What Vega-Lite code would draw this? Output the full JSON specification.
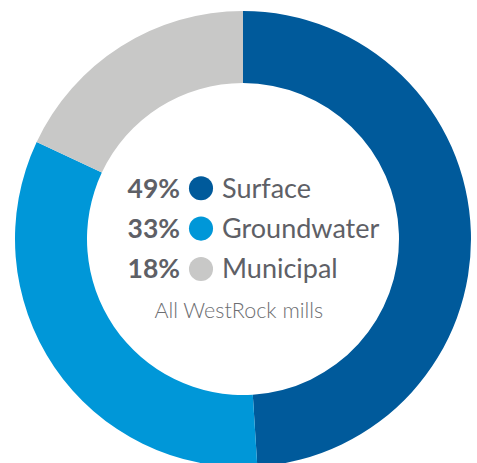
{
  "$schema": "https://vega.github.io/schema/vega-lite/v6.json",
  "width": 477,
  "height": 463,
  "autosize": {"type": "fit", "contains": "padding"},
  "padding": {"left": 9, "top": 15, "right": 0, "bottom": 0},
  "background": "white",
  "config": {"view": {"stroke": null}},
  "datasets": {
    "sources": [
      {"source": "Surface", "share": 0.49, "order": 1},
      {"source": "Groundwater", "share": 0.33, "order": 2},
      {"source": "Municipal", "share": 0.18, "order": 3}
    ],
    "note": [{"text": "All WestRock mills", "order": 4}]
  },
  "layer": [
    {
      "data": {"name": "sources"},
      "mark": {"type": "arc", "outerRadius": 228, "innerRadius": 156},
      "encoding": {
        "theta": {"field": "share", "type": "quantitative", "stack": true},
        "order": {"field": "order", "type": "quantitative"},
        "color": {
          "field": "source",
          "type": "nominal",
          "scale": {"domain": ["Surface", "Groundwater", "Municipal"], "range": ["#005A9B", "#0097D8", "#C8C8C7"]},
          "legend": null
        }
      }
    },
    {
      "data": {"name": "sources"},
      "mark": {"type": "text", "align": "right", "baseline": "alphabetic", "dy": 9.5, "font": "Lato", "fontWeight": "bold", "fontSize": 26.5, "color": "#5E6066"},
      "encoding": {
        "x": {"datum": -3, "type": "quantitative", "scale": {"domain": [-11.143, 11.143], "nice": false, "zero": false}, "axis": null},
        "y": {"field": "order", "type": "quantitative", "scale": {"domain": [-3.294, 7.809], "reverse": true, "nice": false, "zero": false}, "axis": null},
        "text": {"field": "share", "type": "quantitative", "format": ".0%"}
      }
    },
    {
      "data": {"name": "sources"},
      "mark": {"type": "point", "filled": true, "opacity": 1, "size": 580, "strokeWidth": 0},
      "encoding": {
        "x": {"datum": -2, "type": "quantitative", "scale": {"domain": [-11.143, 11.143], "nice": false, "zero": false}, "axis": null},
        "y": {"field": "order", "type": "quantitative", "scale": {"domain": [-3.294, 7.809], "reverse": true, "nice": false, "zero": false}, "axis": null},
        "color": {"field": "source", "type": "nominal", "legend": null}
      }
    },
    {
      "data": {"name": "sources"},
      "mark": {"type": "text", "align": "left", "baseline": "alphabetic", "dy": 9.5, "font": "Lato", "fontWeight": "normal", "fontSize": 27, "color": "#5E6066"},
      "encoding": {
        "x": {"datum": -1, "type": "quantitative", "scale": {"domain": [-11.143, 11.143], "nice": false, "zero": false}, "axis": null},
        "y": {"field": "order", "type": "quantitative", "scale": {"domain": [-3.294, 7.809], "reverse": true, "nice": false, "zero": false}, "axis": null},
        "text": {"field": "source", "type": "nominal"}
      }
    },
    {
      "data": {"name": "note"},
      "mark": {"type": "text", "align": "center", "baseline": "alphabetic", "dy": 8.5, "font": "Lato", "fontWeight": 300, "fontSize": 21.5, "color": "#6D6E71"},
      "encoding": {
        "x": {"datum": -0.2, "type": "quantitative", "scale": {"domain": [-11.143, 11.143], "nice": false, "zero": false}, "axis": null},
        "y": {"field": "order", "type": "quantitative", "scale": {"domain": [-3.294, 7.809], "reverse": true, "nice": false, "zero": false}, "axis": null},
        "text": {"field": "text", "type": "nominal"}
      }
    }
  ]
}
